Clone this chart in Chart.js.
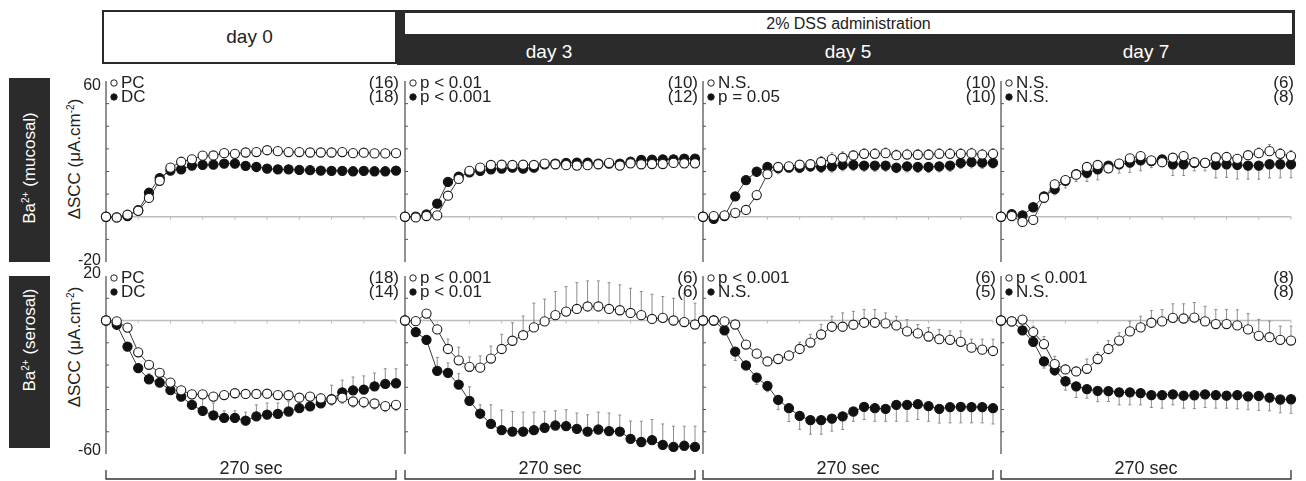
<!DOCTYPE html>
<html>
<head>
<meta charset="utf-8">
<script src="https://cdn.jsdelivr.net/npm/chart.js@4.4.1/dist/chart.umd.min.js"></script>
<style>
body { margin: 0; background: #fff; font-family: "Liberation Sans", Arial, sans-serif; color: #222; }
#fig { position: relative; width: 1306px; height: 481px; overflow: hidden; }
.abs { position: absolute; }
canvas { position: absolute; }
.day0 { left: 102px; top: 10px; width: 291px; height: 50px; border: 2px solid #2a2a2a; font-size: 19px;
        display: flex; align-items: center; justify-content: center; }
.dss { left: 397px; top: 10px; width: 898px; height: 55px; background: #2b2b2b; }
.dssTitle { left: 405px; top: 13px; width: 887px; height: 21px; background: #fff; font-size: 16px;
            line-height: 21px; text-align: center; }
.dayLbl { top: 41px; width: 200px; height: 22px; line-height: 22px; text-align: center; color: #fff; font-size: 19px; }
.rowBox { left: 9px; width: 41px; background: #2b2b2b; }
.rot { position: absolute; white-space: nowrap; font-size: 17px; transform: translate(-50%, -50%) rotate(-90deg); }
.rot sup { font-size: 10px; }
</style>
</head>
<body>
<div id="fig">
  <div class="abs day0">day 0</div>
  <div class="abs dss"></div>
  <div class="abs dssTitle">2% DSS administration</div>
  <div class="abs dayLbl" style="left:449px">day 3</div>
  <div class="abs dayLbl" style="left:748px">day 5</div>
  <div class="abs dayLbl" style="left:1046px">day 7</div>

  <div class="abs rowBox" style="top:78px;height:184px"></div>
  <div class="rot" style="left:30px;top:168px;color:#fff">Ba<sup>2+</sup> (mucosal)</div>
  <div class="abs rowBox" style="top:276px;height:172px"></div>
  <div class="rot" style="left:30px;top:340px;color:#fff">Ba<sup>2+</sup> (serosal)</div>

  <div class="rot" style="left:75px;top:159px">ΔSCC (μA.cm<sup>-2</sup>)</div>
  <div class="rot" style="left:75px;top:347px">ΔSCC (μA.cm<sup>-2</sup>)</div>
</div>
<script>
// time points, 10 s apart (270 sec)
const time = [0, 10, 20, 30, 40, 50, 60, 70, 80, 90, 100, 110, 120, 130, 140, 150, 160, 170, 180, 190, 200, 210, 220, 230, 240, 250, 260, 270];

// Ba2+ mucosal
const mucPC0 = [0, -0.3, 0.9, 2.6, 8.3, 15.9, 21.7, 24.3, 25.4, 27.0, 27.1, 28.1, 27.8, 28.4, 28.6, 29.4, 29.0, 28.6, 28.6, 28.4, 28.4, 28.4, 28.6, 28.1, 28.3, 28.0, 28.0, 28.1];
const mucDC0 = [0, -0.3, 0.3, 2.9, 10.6, 17.1, 20.4, 21.0, 22.6, 22.9, 23.0, 23.5, 23.5, 22.5, 22.0, 21.3, 20.9, 20.9, 20.7, 20.6, 20.4, 20.3, 20.3, 20.1, 20.3, 20.1, 20.1, 20.4];
const mucPC3 = [0, -0.3, 0.3, 0.6, 9.3, 16.7, 20.3, 21.7, 22.9, 23.0, 22.9, 23.0, 22.9, 23.5, 23.2, 22.8, 22.6, 22.8, 23.2, 23.8, 22.6, 23.6, 23.2, 23.3, 23.3, 23.8, 23.6, 23.6];
const mucDC3 = [0, 0, 1.0, 5.8, 15.4, 17.7, 19.6, 20.3, 21.0, 21.3, 21.7, 21.3, 21.7, 23.2, 23.5, 23.8, 23.9, 23.9, 23.5, 23.5, 23.5, 24.3, 25.1, 25.2, 25.4, 25.4, 25.7, 25.7];
const mucPC5 = [0, 0.3, 0.6, 1.7, 3.0, 9.6, 18.8, 22.0, 22.3, 23.0, 23.2, 24.2, 25.5, 26.1, 27.1, 27.8, 27.8, 28.1, 27.2, 27.5, 27.4, 27.4, 27.8, 27.8, 27.8, 28.0, 27.5, 27.8];
const mucDC5 = [0, -0.9, 0.3, 9.0, 16.2, 19.9, 22.0, 21.5, 21.7, 21.7, 22.3, 22.0, 22.3, 22.9, 22.9, 22.6, 22.6, 22.6, 21.7, 22.3, 22.0, 22.0, 22.3, 22.6, 23.8, 24.1, 23.9, 23.8];
const mucPC7 = [0, 0.3, -2.3, -1.4, 8.4, 14.3, 16.2, 18.6, 22.0, 22.9, 21.4, 23.5, 25.8, 26.8, 24.9, 24.1, 26.1, 26.8, 24.1, 23.8, 26.2, 26.4, 25.6, 27.2, 28.1, 29.0, 27.8, 26.8];
const mucDC7 = [0, 1.2, 0.6, 4.2, 9.0, 12.2, 15.9, 18.8, 19.4, 20.9, 22.6, 23.2, 23.9, 24.9, 24.6, 25.4, 23.2, 23.2, 23.8, 23.8, 22.9, 23.2, 22.9, 22.6, 22.6, 23.2, 23.2, 23.2];

const mucPCerr0 = [0, 0.5, 0.6, 0.8, 0.8, 0.8, 0.8, 0.8, 0.8, 0.8, 0.8, 0.8, 0.8, 0.8, 0.8, 0.8, 0.8, 0.8, 0.8, 0.8, 0.8, 0.8, 0.8, 0.8, 0.8, 0.8, 0.8, 0.8];
const mucDCerr0 = [0, 0.5, 0.6, 0.8, 0.8, 0.8, 0.8, 0.8, 0.8, 0.8, 0.8, 0.8, 0.8, 0.8, 0.8, 0.8, 0.8, 0.8, 0.8, 0.8, 0.8, 0.8, 0.8, 0.8, 0.8, 0.8, 0.8, 0.8];
const mucPCerr3 = [0, 0.5, 0.5, 0.8, 0.8, 0.8, 0.8, 0.8, 0.8, 0.8, 0.8, 0.8, 0.8, 0.8, 0.8, 0.8, 0.8, 0.8, 0.8, 0.8, 0.8, 0.8, 0.8, 0.8, 0.8, 0.8, 0.8, 0.8];
const mucDCerr3 = [0, 0.5, 0.8, 1.0, 1.0, 1.0, 1.0, 1.0, 1.0, 1.0, 1.0, 1.0, 1.5, 1.0, 1.0, 1.0, 1.0, 1.0, 1.0, 1.0, 1.0, 1.0, 1.0, 1.0, 1.0, 1.0, 1.0, 1.0];
const mucPCerr5 = [0, 0, 0.5, 0.8, 1.0, 1.2, 1.5, 1.5, 1.5, 1.8, 2.0, 2.5, 2.8, 2.6, 2.2, 2.3, 2.3, 2.3, 2.3, 2.3, 2.3, 2.3, 2.3, 2.3, 2.3, 2.3, 2.3, 2.3];
const mucDCerr5 = [0, 0.5, 0.5, 1.0, 1.5, 2.0, 2.2, 2.5, 1.7, 2.2, 2.2, 2.5, 2.6, 2.6, 2.5, 2.5, 2.5, 2.5, 2.2, 2.5, 2.5, 2.5, 2.5, 2.5, 2.5, 2.5, 2.5, 2.3];
const mucPCerr7 = [0, 0.5, 0.8, 1.0, 2.0, 1.9, 1.9, 1.7, 1.5, 1.5, 1.5, 1.9, 1.7, 1.4, 1.5, 1.3, 1.7, 1.7, 2.0, 1.6, 2.0, 1.9, 1.9, 2.0, 2.3, 2.9, 2.3, 2.5];
const mucDCerr7 = [0, 0.5, 0.8, 1.5, 2.5, 2.5, 3.2, 3.2, 3.8, 4.6, 3.0, 3.9, 4.3, 4.6, 2.9, 3.3, 5.0, 5.0, 3.5, 3.5, 5.8, 5.8, 6.2, 6.0, 6.0, 6.0, 6.0, 6.0];

// Ba2+ serosal
const serPC0 = [0, -0.4, -3.2, -14.3, -19.9, -23.5, -27.9, -31.4, -33.2, -33.2, -34.2, -33.5, -32.7, -33.0, -33.0, -32.9, -33.5, -33.6, -34.7, -34.2, -35.0, -35.5, -34.7, -36.4, -36.7, -37.3, -38.5, -37.9];
const serDC0 = [0, -1.9, -11.7, -21.4, -26.4, -27.9, -31.3, -34.2, -37.9, -40.6, -42.6, -43.8, -43.8, -45.0, -43.1, -42.3, -42.0, -40.9, -39.4, -38.6, -37.2, -35.3, -32.3, -31.4, -31.1, -29.6, -28.5, -28.2];
const serPC3 = [0, -0.3, 3.1, -4.0, -12.8, -17.9, -20.8, -21.2, -17.1, -12.8, -9.1, -6.6, -3.1, -0.4, 2.4, 4.0, 5.2, 6.3, 6.3, 5.2, 4.6, 3.4, 2.4, 0.7, 1.2, 0, -0.7, -1.8];
const serDC3 = [0, -5.2, -8.7, -22.6, -23.5, -28.8, -36.1, -41.9, -46.5, -49.3, -49.9, -49.9, -49.3, -48.2, -47.2, -47.5, -48.7, -49.9, -49.0, -49.7, -49.9, -53.2, -54.6, -53.8, -55.9, -56.8, -56.3, -56.8];
const serPC5 = [0, 0, -0.4, -1.8, -10.8, -14.9, -18.4, -17.3, -15.8, -12.8, -9.9, -6.3, -2.8, -2.8, -1.9, -1.0, -1.0, -1.3, -2.2, -4.9, -5.8, -7.2, -8.4, -8.7, -9.6, -12.2, -13.1, -13.7];
const serDC5 = [0, 0, -4.4, -14.0, -20.2, -25.7, -29.4, -35.7, -39.4, -42.9, -44.8, -44.8, -44.1, -43.1, -40.9, -38.8, -39.4, -39.7, -37.9, -37.9, -37.6, -38.5, -39.7, -38.9, -38.8, -38.9, -38.9, -39.4];
const serPC7 = [0, -0.4, 0.4, -5.2, -10.6, -19.6, -22.0, -22.9, -21.7, -17.3, -12.8, -9.0, -4.9, -3.1, -1.0, -0.4, 1.2, 0.9, 1.3, -0.4, -1.6, -1.6, -2.2, -4.0, -6.9, -7.5, -8.7, -9.0];
const serDC7 = [0, -0.4, -4.4, -9.6, -18.4, -22.3, -27.3, -29.6, -30.8, -31.6, -31.7, -32.3, -32.3, -32.6, -33.5, -33.5, -33.2, -33.8, -33.6, -33.2, -33.5, -33.8, -33.5, -34.1, -33.9, -34.7, -35.5, -35.4];

const serPCerr0 = [0, 0, 0.5, 0.8, 1.0, 1.0, 1.0, 1.2, 1.5, 1.8, 2.0, 2.0, 2.0, 2.0, 2.0, 2.0, 2.0, 2.0, 2.0, 2.2, 2.2, 2.5, 2.5, 2.5, 2.5, 2.5, 2.5, 2.5];
const serDCerr0 = [0, 0.5, 1.5, 2.0, 2.5, 3.0, 3.0, 3.5, 5.0, 5.6, 5.5, 3.2, 3.2, 3.8, 5.2, 5.2, 4.9, 4.4, 4.4, 4.4, 4.4, 6.2, 5.5, 6.0, 6.2, 6.0, 6.8, 6.5];
const serPCerr3 = [0, 0.5, 1.0, 2.0, 4.4, 5.9, 4.4, 5.3, 5.6, 6.6, 8.1, 8.6, 10.9, 10.0, 10.6, 11.2, 11.8, 11.5, 11.5, 11.8, 11.4, 11.1, 10.6, 11.1, 9.6, 10.0, 13.0, 9.6];
const serDCerr3 = [0, 2.0, 2.0, 6.0, 4.4, 4.9, 6.3, 4.0, 8.6, 9.1, 9.0, 8.7, 8.1, 7.4, 6.6, 7.4, 7.1, 7.5, 7.8, 8.1, 7.4, 8.0, 9.3, 9.3, 9.4, 9.3, 8.8, 9.3];
const serPCerr5 = [0, 0, 0.5, 1.0, 1.5, 2.0, 1.5, 1.5, 2.2, 3.0, 3.7, 4.6, 4.7, 6.2, 6.0, 5.9, 5.9, 4.7, 4.1, 5.3, 4.0, 4.0, 4.4, 4.0, 4.9, 3.8, 4.7, 5.3];
const serDCerr5 = [0, 0, 1.0, 4.0, 2.0, 3.0, 2.6, 4.4, 6.0, 6.0, 6.3, 6.3, 5.6, 5.9, 4.4, 5.7, 5.9, 5.6, 7.4, 7.4, 6.9, 6.8, 6.4, 7.1, 7.2, 7.1, 7.1, 7.1];
const serPCerr7 = [0, 0, 0.5, 2.7, 3.4, 3.5, 2.0, 2.0, 4.4, 3.0, 3.7, 3.5, 4.6, 5.0, 5.5, 5.3, 6.3, 6.6, 6.8, 6.8, 6.5, 6.5, 7.0, 7.1, 7.4, 7.2, 6.2, 6.5];
const serDCerr7 = [0, 0, 1.0, 2.0, 3.0, 2.4, 4.0, 5.0, 4.1, 4.9, 4.7, 5.6, 5.6, 5.3, 5.6, 5.9, 4.7, 5.6, 6.0, 5.9, 5.9, 5.6, 6.2, 6.0, 6.5, 5.9, 6.0, 6.3];

// legend texts and n per panel
const mucStats = [['PC', 'DC'], ['p < 0.01', 'p < 0.001'], ['N.S.', 'p = 0.05'], ['N.S.', 'N.S.']];
const mucN = [['(16)', '(18)'], ['(10)', '(12)'], ['(10)', '(10)'], ['(6)', '(8)']];
const serStats = [['PC', 'DC'], ['p < 0.001', 'p < 0.01'], ['p < 0.001', 'N.S.'], ['p < 0.001', 'N.S.']];
const serN = [['(18)', '(14)'], ['(6)', '(6)'], ['(6)', '(5)'], ['(8)', '(8)']];

const mucRange = [-20, 60];
const serRange = [-60, 20];
const durationLabel = '270 sec';

// layout
const axisX = [106, 404.5, 703, 1001];
const FONT = '"Liberation Sans", Arial, sans-serif';

const rows = [
    {
        top: 81, bottom: 262, range: mucRange, stats: mucStats, n: mucN, bracket: false,
        pc: [mucPC0, mucPC3, mucPC5, mucPC7], dc: [mucDC0, mucDC3, mucDC5, mucDC7],
        pcErr: [mucPCerr0, mucPCerr3, mucPCerr5, mucPCerr7], dcErr: [mucDCerr0, mucDCerr3, mucDCerr5, mucDCerr7],
        pcDir: [1, 1, 1, 1], dcDir: [-1, -1, -1, -1], lblTop: 5, lblBot: -1
    },
    {
        top: 276, bottom: 454, range: serRange, stats: serStats, n: serN, bracket: true,
        pc: [serPC0, serPC3, serPC5, serPC7], dc: [serDC0, serDC3, serDC5, serDC7],
        pcErr: [serPCerr0, serPCerr3, serPCerr5, serPCerr7], dcErr: [serDCerr0, serDCerr3, serDCerr5, serDCerr7],
        pcDir: [-1, 1, 1, 1], dcDir: [1, 1, -1, -1], lblTop: -2, lblBot: -3
    }
];

function seg(ctx, x1, y1, x2, y2) {
    ctx.beginPath();
    ctx.moveTo(x1, y1);
    ctx.lineTo(x2, y2);
    ctx.stroke();
}

const panelDecor = {
    id: 'panelDecor',
    beforeDatasetsDraw(chart, args, o) {
        const { ctx, chartArea: a, scales: { y } } = chart;
        const pts0 = chart.getDatasetMeta(0).data;
        const xEnd = pts0[pts0.length - 1].x;
        const y0 = y.getPixelForValue(0);
        ctx.save();
        // zero line + time ticks
        ctx.strokeStyle = '#bdbdbd';
        ctx.lineWidth = 1.4;
        seg(ctx, a.left, y0, xEnd, y0);
        ctx.lineWidth = 1;
        for (let i = 3; i < pts0.length; i += 3) seg(ctx, pts0[i].x, y0, pts0[i].x, y0 + 3);
        // y axis
        ctx.strokeStyle = '#555';
        ctx.lineWidth = 1.3;
        seg(ctx, a.left, a.top, a.left, a.bottom);
        ctx.lineWidth = 1;
        for (let v = o.range[0] + 10; v < o.range[1]; v += 10) {
            const py = y.getPixelForValue(v);
            seg(ctx, a.left, py, a.left + 3, py);
        }
        // error bars
        ctx.strokeStyle = '#8c8c8c';
        ctx.lineWidth = 1;
        o.errors.forEach((e, k) => {
            const pts = chart.getDatasetMeta(k).data;
            const vals = chart.data.datasets[k].data;
            e.err.forEach((d, i) => {
                if (!d) return;
                const py = y.getPixelForValue(vals[i] + e.dir * d);
                seg(ctx, pts[i].x, pts[i].y, pts[i].x, py);
                seg(ctx, pts[i].x - 1.5, py, pts[i].x + 1.5, py);
            });
        });
        ctx.restore();
    },
    afterDraw(chart, args, o) {
        const { ctx, chartArea: a } = chart;
        ctx.save();
        ctx.fillStyle = '#222';
        ctx.font = '17px ' + FONT;
        ctx.textBaseline = 'middle';
        // legend markers and stats
        [a.top + 2, a.top + 16].forEach((ly, k) => {
            ctx.beginPath();
            ctx.arc(a.left + 8, ly, 3.2, 0, Math.PI * 2);
            ctx.fillStyle = k === 0 ? '#fff' : '#111';
            ctx.fill();
            ctx.strokeStyle = '#222';
            ctx.lineWidth = 1;
            ctx.stroke();
            ctx.fillStyle = '#222';
            ctx.textAlign = 'left';
            ctx.fillText(o.stats[k], a.left + 15, ly);
            ctx.textAlign = 'right';
            ctx.fillText(o.n[k], a.left + 293, ly);
        });
        // y tick labels (first column only)
        if (o.tickLabels) {
            ctx.font = '16px ' + FONT;
            ctx.textAlign = 'right';
            ctx.fillText(String(o.range[1]), a.left - 5, a.top + o.lblTop);
            ctx.fillText(String(o.range[0]), a.left - 5, a.bottom + o.lblBot);
        }
        // 270 sec bracket
        if (o.bracket) {
            const pts = chart.getDatasetMeta(0).data;
            const x1 = pts[0].x, x2 = pts[pts.length - 1].x;
            const by = a.bottom + 25;
            ctx.strokeStyle = '#333';
            ctx.lineWidth = 1.3;
            ctx.beginPath();
            ctx.moveTo(x1, by - 9);
            ctx.lineTo(x1, by);
            ctx.lineTo(x2, by);
            ctx.lineTo(x2, by - 9);
            ctx.stroke();
            ctx.font = '18px ' + FONT;
            ctx.textAlign = 'center';
            ctx.fillStyle = '#222';
            ctx.fillText(durationLabel, (x1 + x2) / 2, by - 10);
        }
        ctx.restore();
    }
};

const fig = document.getElementById('fig');

rows.forEach(row => {
    axisX.forEach((ax, c) => {
        const padL = 40, padR = 10, padT = 20;
        const padB = row.bracket ? 481 - row.bottom : 14;
        const canvas = document.createElement('canvas');
        canvas.width = padL + 290 + padR;
        canvas.height = padT + (row.bottom - row.top) + padB;
        canvas.style.left = (ax - padL) + 'px';
        canvas.style.top = (row.top - padT) + 'px';
        fig.appendChild(canvas);

        new Chart(canvas, {
            type: 'line',
            data: {
                labels: time,
                datasets: [
                    {
                        data: row.pc[c], borderColor: '#3a3a3a', borderWidth: 1, tension: 0, clip: false,
                        pointRadius: 4.6, pointBackgroundColor: '#fff', pointBorderColor: '#1a1a1a', pointBorderWidth: 1.1
                    },
                    {
                        data: row.dc[c], borderColor: '#3a3a3a', borderWidth: 1, tension: 0, clip: false,
                        pointRadius: 4.6, pointBackgroundColor: '#111', pointBorderColor: '#111', pointBorderWidth: 1.1
                    }
                ]
            },
            options: {
                responsive: false,
                animation: false,
                events: [],
                layout: { padding: { left: padL, right: padR, top: padT, bottom: padB } },
                scales: {
                    x: { type: 'category', display: false, offset: false },
                    y: { display: false, min: row.range[0], max: row.range[1] }
                },
                plugins: {
                    legend: { display: false },
                    tooltip: { enabled: false },
                    panelDecor: {
                        range: row.range,
                        stats: row.stats[c],
                        n: row.n[c],
                        tickLabels: c === 0,
                        lblTop: row.lblTop,
                        lblBot: row.lblBot,
                        bracket: row.bracket,
                        errors: [
                            { err: row.pcErr[c], dir: row.pcDir[c] },
                            { err: row.dcErr[c], dir: row.dcDir[c] }
                        ]
                    }
                }
            },
            plugins: [panelDecor]
        });
    });
});
</script>
</body>
</html>
